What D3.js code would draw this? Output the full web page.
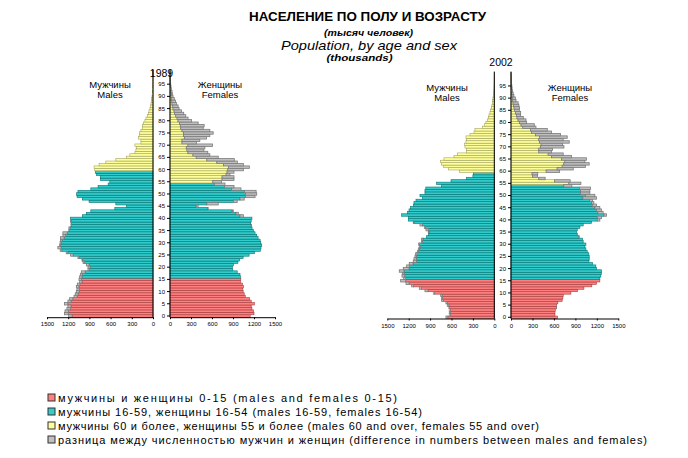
<!DOCTYPE html>
<html>
<head>
<meta charset="utf-8">
<script src="https://cdn.jsdelivr.net/npm/d3@7"></script>
<style>
  body { margin: 0; background: #fff; }
  text { font-family: "Liberation Sans", Arial, sans-serif; fill: #000; }
</style>
</head>
<body>
<script>
// Define SVG area dimensions
var svgWidth = 688;
var svgHeight = 458;

// ages 0..100, one bar per single year
var ages = d3.range(0, 101);

// thousands of people
var male1989 = [1194, 1251, 1245, 1218, 1204, 1251, 1204, 1180, 1118, 1100,
  1085, 1076, 1085, 1071, 1038, 1047, 1038, 1028, 1014, 920,
  920, 943, 990, 1005, 1062, 1166, 1228, 1313, 1346, 1320,
  1315, 1310, 1310, 1275, 1275, 1190, 1190, 1160, 1160, 1166,
  1166, 1000, 943, 880, 540, 374, 526, 905, 1000, 1075,
  1080, 1062, 880, 777, 635, 611, 744, 744, 801, 815,
  825, 834, 763, 668, 526, 374, 327, 256, 242, 232,
  256, 171, 171, 209, 194, 194, 171, 152, 147, 137,
  114, 100, 81, 66, 57, 43, 33, 28, 24, 19,
  14, 10, 8, 6, 4, 3, 2, 2, 1, 1, 1];

var female1989 = [1145, 1200, 1195, 1170, 1160, 1205, 1160, 1135, 1075, 1060,
  1045, 1040, 1048, 1035, 1005, 1012, 1005, 1000, 960, 895,
  890, 905, 970, 995, 1045, 1130, 1205, 1290, 1300, 1311,
  1297, 1287, 1258, 1239, 1215, 1190, 1172, 1162, 1153, 1160,
  1170, 1048, 976, 904, 545, 402, 689, 960, 1060, 1215,
  1239, 1230, 1014, 914, 785, 737, 914, 914, 856, 914,
  1048, 1134, 1048, 962, 919, 689, 569, 540, 483, 498,
  608, 378, 426, 522, 569, 617, 569, 474, 488, 402,
  306, 258, 225, 196, 163, 129, 115, 91, 77, 62,
  43, 33, 29, 19, 14, 10, 7, 5, 4, 3, 2];

var male2002 = [678, 631, 631, 631, 636, 659, 678, 738, 738, 752,
  855, 972, 1051, 1159, 1238, 1313, 1271, 1294, 1290, 1332,
  1276, 1229, 1192, 1136, 1126, 1112, 1103, 1079, 1065, 1051,
  1060, 1019, 1019, 949, 925, 925, 958, 981, 1042, 1136,
  1206, 1206, 1299, 1215, 1196, 1173, 1136, 1126, 1098, 1005,
  1042, 972, 972, 960, 738, 808, 607, 388, 300, 294,
  491, 645, 715, 738, 752, 706, 565, 519, 388, 388,
  411, 421, 397, 388, 397, 341, 285, 271, 164, 140,
  117, 98, 84, 75, 61, 51, 42, 33, 28, 23,
  19, 14, 10, 7, 5, 4, 3, 2, 2, 1, 1];

var female2002 = [651, 614, 614, 619, 637, 637, 655, 715, 725, 730,
  837, 930, 1019, 1130, 1195, 1242, 1242, 1256, 1265, 1265,
  1195, 1186, 1140, 1090, 1093, 1093, 1088, 1065, 1047, 1033,
  1047, 1009, 1000, 953, 926, 916, 926, 963, 1009, 1126,
  1242, 1265, 1335, 1288, 1265, 1242, 1195, 1158, 1140, 1195,
  1172, 1102, 1102, 1110, 850, 977, 827, 477, 369, 374,
  680, 870, 1040, 1093, 1033, 1056, 847, 730, 567, 581,
  740, 721, 814, 730, 786, 693, 567, 507, 349, 326,
  219, 209, 172, 135, 135, 116, 120, 110, 100, 70,
  60, 40, 30, 20, 15, 12, 8, 6, 4, 3, 2];

var xTicks = [0, 300, 600, 900, 1200, 1500];
var ageTicks = d3.range(0, 100, 5);

var legendLabels = [
  "мужчины и женщины 0-15 (males and females 0-15)",
  "мужчины 16-59, женщины 16-54 (males 16-59, females 16-54)",
  "мужчины 60 и более, женщины 55 и более (males 60 and over, females 55 and over)",
  "разница между численностью мужчин и женщин (difference in numbers between males and females)"
];
var legendWidths = [339, 364, 481, 589];

// fill / outline per group
var colors = {
  young: ["#ff8080", "#a33a3a"],
  work: ["#33cccc", "#007272"],
  old: ["#ffff99", "#a3a35c"],
  diff: ["#c0c0c0", "#7a7a7a"]
};
var legendKeys = ["young", "work", "old", "diff"];

function group(age, sex) {
  if (age <= 15) return "young";
  if ((sex == "m" && age <= 59) || (sex == "f" && age <= 54)) return "work";
  return "old";
}

var svg = d3.select("body")
  .append("svg")
  .attr("width", svgWidth)
  .attr("height", svgHeight);

// Titles
var titles = [
  {t: "НАСЕЛЕНИЕ ПО ПОЛУ И ВОЗРАСТУ", y: 20.7, size: 12, w: 237, weight: "bold", style: "normal", x: 367.5},
  {t: "(тысяч человек)", y: 35.5, size: 9, w: 89, weight: "bold", style: "italic", x: 368.5},
  {t: "Population, by age and sex", y: 50, size: 13.5, w: 176, weight: "normal", style: "italic", x: 369},
  {t: "(thousands)", y: 61, size: 9, w: 66, weight: "bold", style: "italic", x: 359.5}
];
svg.selectAll("text.title").data(titles).enter().append("text")
  .attr("class", "title")
  .attr("x", d => d.x)
  .attr("y", d => d.y)
  .attr("text-anchor", "middle")
  .attr("textLength", d => d.w)
  .attr("lengthAdjust", "spacingAndGlyphs")
  .style("font-size", d => d.size + "px")
  .style("font-weight", d => d.weight)
  .style("font-style", d => d.style)
  .text(d => d.t);

function drawPyramid(cfg) {
  var g = svg.append("g");
  var y = d3.scaleBand()
    .domain(ages.slice().reverse())
    .range([cfg.top, cfg.bottom])
    .padding(0);
  var xm = d3.scaleLinear().domain([0, 1500]).range([cfg.mZero, cfg.mEnd]);
  var xf = d3.scaleLinear().domain([0, 1500]).range([cfg.fZero, cfg.fEnd]);

  var rows = ages.map(function(a, i) {
    return {age: a, m: cfg.males[i], f: cfg.females[i], lo: Math.min(cfg.males[i], cfg.females[i])};
  });

  // male common part
  g.selectAll("rect.mbar").data(rows).enter().append("rect")
    .attr("x", d => xm(d.lo))
    .attr("y", d => y(d.age))
    .attr("width", d => xm(0) - xm(d.lo))
    .attr("height", y.bandwidth())
    .attr("fill", d => colors[group(d.age, "m")][0])
    .attr("stroke", d => colors[group(d.age, "m")][1])
    .attr("stroke-width", 0.6);

  // female common part
  g.selectAll("rect.fbar").data(rows).enter().append("rect")
    .attr("x", xf(0))
    .attr("y", d => y(d.age))
    .attr("width", d => xf(d.lo) - xf(0))
    .attr("height", y.bandwidth())
    .attr("fill", d => colors[group(d.age, "f")][0])
    .attr("stroke", d => colors[group(d.age, "f")][1])
    .attr("stroke-width", 0.6);

  // difference bars (grey), on the side that is bigger
  g.selectAll("rect.mdiff").data(rows.filter(d => d.m > d.f)).enter().append("rect")
    .attr("x", d => xm(d.m))
    .attr("y", d => y(d.age))
    .attr("width", d => xm(d.f) - xm(d.m))
    .attr("height", y.bandwidth())
    .attr("fill", colors.diff[0])
    .attr("stroke", colors.diff[1])
    .attr("stroke-width", 0.8);

  g.selectAll("rect.fdiff").data(rows.filter(d => d.f > d.m)).enter().append("rect")
    .attr("x", d => xf(d.m))
    .attr("y", d => y(d.age))
    .attr("width", d => xf(d.f) - xf(d.m))
    .attr("height", y.bandwidth())
    .attr("fill", colors.diff[0])
    .attr("stroke", colors.diff[1])
    .attr("stroke-width", 0.8);

  // x axes
  [xm, xf].forEach(function(sc) {
    var ax = g.append("g")
      .attr("transform", `translate(0, ${cfg.bottom})`)
      .call(d3.axisBottom(sc).tickValues(xTicks).tickFormat(d3.format("d"))
        .tickSize(2).tickSizeOuter(0).tickPadding(3));
    ax.selectAll("text").style("font-size", "6px");
  });

  // male zero line
  g.append("line")
    .attr("x1", cfg.mZero).attr("x2", cfg.mZero)
    .attr("y1", cfg.top - 1).attr("y2", cfg.bottom)
    .attr("stroke", "#000");

  // age axis on the female zero line
  var ay = g.append("g")
    .attr("transform", `translate(${cfg.fZero}, 0)`)
    .call(d3.axisLeft(y).tickValues(ageTicks).tickSize(3).tickSizeOuter(0).tickPadding(2));
  ay.select(".domain").attr("d", `M0,${cfg.top - 1}V${cfg.bottom}`);
  ay.selectAll("text").style("font-size", "6px");

  // year
  g.append("text")
    .attr("x", cfg.yearX).attr("y", cfg.yearY)
    .attr("text-anchor", "middle")
    .style("font-size", "10.5px")
    .text(cfg.year);

  // sex labels
  var sexLabels = [
    {x: cfg.mLabelX, t: ["Мужчины", "Males"]},
    {x: cfg.fLabelX, t: ["Женщины", "Females"]}
  ];
  sexLabels.forEach(function(s) {
    s.t.forEach(function(line, i) {
      g.append("text")
        .attr("x", s.x)
        .attr("y", cfg.labelY + i * 10)
        .attr("text-anchor", "middle")
        .style("font-size", "9.5px")
        .text(line);
    });
  });
}

drawPyramid({
  males: male1989, females: female1989, year: "1989",
  mZero: 153, mEnd: 47, fZero: 170, fEnd: 275,
  top: 317.2 - 101 * 2.44, bottom: 317.2,
  yearX: 161.5, yearY: 77,
  mLabelX: 110, fLabelX: 220, labelY: 87.5
});

drawPyramid({
  males: male2002, females: female2002, year: "2002",
  mZero: 494.3, mEnd: 387.3, fZero: 511, fEnd: 618.3,
  top: 318.5 - 101 * 2.435, bottom: 318.5,
  yearX: 501, yearY: 66,
  mLabelX: 447, fLabelX: 570, labelY: 90.5
});

// Legend
var legend = svg.append("g").attr("transform", "translate(48, 394)");
var items = legend.selectAll("g.item")
  .data(legendLabels)
  .enter()
  .append("g")
  .attr("transform", (d, i) => `translate(0, ${i * 14})`);

items.append("rect")
  .attr("width", 7)
  .attr("height", 7)
  .attr("fill", (d, i) => colors[legendKeys[i]][0])
  .attr("stroke", "#333")
  .attr("stroke-width", 1);

items.append("text")
  .attr("x", 10)
  .attr("y", 7.6)
  .attr("textLength", (d, i) => legendWidths[i])
  .attr("lengthAdjust", "spacing")
  .style("font-size", "11px")
  .text(d => d);
</script>
</body>
</html>
